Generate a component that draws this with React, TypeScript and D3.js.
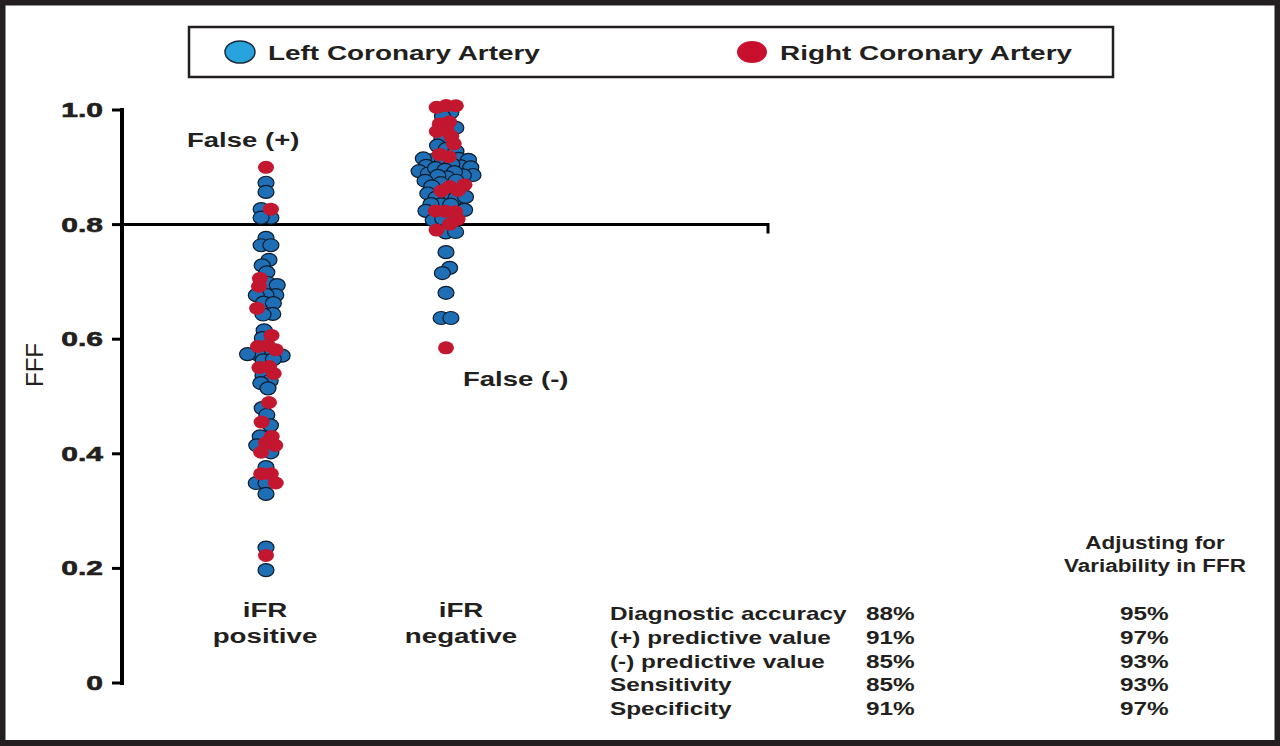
import React, { useMemo } from 'react';
import * as d3 from 'd3';

// FFR values, by iFR result and artery
const groups = ['iFR positive', 'iFR negative'];

const positiveLCA = [
  0.873, 0.857, 0.827, 0.812, 0.812, 0.777, 0.764, 0.764, 0.738, 0.729, 0.717, 0.698, 0.695,
  0.677, 0.677, 0.677, 0.663, 0.663, 0.644, 0.644, 0.613, 0.604, 0.574, 0.574, 0.574, 0.574,
  0.567, 0.567, 0.534, 0.529, 0.525, 0.515, 0.48, 0.468, 0.45, 0.429, 0.415, 0.403, 0.375,
  0.349, 0.349, 0.33, 0.236, 0.197,
];
const positiveRCA = [
  0.9, 0.827, 0.703, 0.695, 0.654, 0.607, 0.586, 0.586, 0.578, 0.551, 0.551, 0.541, 0.489,
  0.455, 0.429, 0.421, 0.415, 0.403, 0.366, 0.366, 0.349, 0.223,
];
const negativeLCA = [
  1.0, 0.988, 0.969, 0.949, 0.939, 0.932, 0.925, 0.909, 0.909, 0.909, 0.909, 0.904, 0.904,
  0.904, 0.904, 0.904, 0.895, 0.895, 0.895, 0.895, 0.887, 0.887, 0.887, 0.887, 0.887, 0.878,
  0.878, 0.878, 0.869, 0.857, 0.848, 0.848, 0.848, 0.848, 0.839, 0.839, 0.839, 0.825, 0.825,
  0.808, 0.808, 0.787, 0.787, 0.752, 0.724, 0.716, 0.681, 0.637, 0.637,
];
const negativeRCA = [
  1.005, 1.005, 1.005, 0.977, 0.977, 0.967, 0.963, 0.951, 0.939, 0.918, 0.913, 0.869, 0.869,
  0.857, 0.852, 0.825, 0.825, 0.825, 0.808, 0.805, 0.79, 0.585,
];

const yTicks = [0, 0.2, 0.4, 0.6, 0.8, 1.0];
const threshold = 0.8;

const metrics = [
  'Diagnostic accuracy',
  '(+) predictive value',
  '(-) predictive value',
  'Sensitivity',
  'Specificity',
];
const rawValues = ['88%', '91%', '85%', '85%', '91%'];
const adjustedValues = ['95%', '97%', '93%', '93%', '97%'];

const FONT = '"Liberation Sans", Arial, Helvetica, sans-serif';
const BLUE = '#1f6fb6';
const RED = '#c3172f';

interface Node {
  group: string;
  artery: 'LCA' | 'RCA';
  v: number;
  x?: number;
  y?: number;
}

const T: React.FC<{
  x: number;
  y: number;
  sx?: number;
  size?: number;
  weight?: string | number;
  anchor?: 'start' | 'middle' | 'end';
  children: React.ReactNode;
}> = ({ x, y, sx = 1.3, size = 20, weight = 'bold', anchor = 'start', children }) => (
  <text
    transform={`translate(${x},${y}) scale(${sx},1)`}
    textAnchor={anchor}
    fontSize={size}
    fontWeight={weight}
    fontFamily={FONT}
    fill="#231f20"
  >
    {children}
  </text>
);

export default function App() {
  const W = 1280;
  const H = 746;
  const axisX = 122;

  const y = d3.scaleLinear().domain([0, 1]).range([683, 110]);
  const xDots = d3.scalePoint<string>().domain(groups).range([266, 446]);
  const xLabels = d3.scalePoint<string>().domain(groups).range([265, 461]);

  const nodes = useMemo(() => {
    const list: Node[] = [
      ...positiveLCA.map((v) => ({ group: groups[0], artery: 'LCA' as const, v })),
      ...negativeLCA.map((v) => ({ group: groups[1], artery: 'LCA' as const, v })),
      ...positiveRCA.map((v) => ({ group: groups[0], artery: 'RCA' as const, v })),
      ...negativeRCA.map((v) => ({ group: groups[1], artery: 'RCA' as const, v })),
    ];
    list.forEach((d) => {
      d.x = 0;
      d.y = y(d.v);
    });
    // beeswarm in an unstretched space, run per column; x gets widened afterwards
    groups.forEach((g) => {
      const sub = list.filter((d) => d.group === g);
      const sim = d3
        .forceSimulation(sub as any)
        .force('x', d3.forceX(0).strength(0.12))
        .force('y', d3.forceY((d: any) => y(d.v)).strength(1))
        .force('collide', d3.forceCollide(3.9))
        .stop();
      for (let i = 0; i < 300; i++) sim.tick();
    });
    return list;
  }, []);

  return (
    <svg
      width={W}
      height={H}
      style={{ position: 'absolute', left: 0, top: 0, background: '#fff' }}
    >
      <rect x={2.5} y={2.5} width={W - 5} height={H - 5.5} fill="#fff" stroke="#231f20" strokeWidth={6} />

      {/* legend */}
      <rect x={189} y={27} width={924} height={50} fill="none" stroke="#231f20" strokeWidth={2.5} />
      <ellipse cx={240} cy={52} rx={15} ry={11} fill="#29a3dc" stroke="#1b2a3a" strokeWidth={1.5} />
      <T x={268} y={60} sx={1.33} size={21}>Left Coronary Artery</T>
      <ellipse cx={752} cy={52} rx={15} ry={11} fill="#c8102e" />
      <T x={780} y={60} sx={1.33} size={21}>Right Coronary Artery</T>

      {/* y axis */}
      <line x1={axisX} x2={axisX} y1={y(1) - 2} y2={y(0) + 2} stroke="#000" strokeWidth={4} />
      {yTicks.map((t) => (
        <g key={t}>
          <line x1={axisX - 10} x2={axisX} y1={y(t)} y2={y(t)} stroke="#000" strokeWidth={3} />
          <text
            transform={`translate(103,${y(t) + 7}) scale(1.5,1)`}
            textAnchor="end"
            fontSize={20}
            fontWeight="bold"
            fontFamily={FONT}
            fill="#231f20"
            stroke="#231f20"
            strokeWidth={0.6}
          >
            {t === 0 ? '0' : t.toFixed(1)}
          </text>
        </g>
      ))}
      <text
        transform={`translate(43,365) rotate(-90)`}
        textAnchor="middle"
        fontSize={24}
        fontFamily={FONT}
        fill="#231f20"
      >
        FFF
      </text>

      {/* cut-off line */}
      <path
        d={`M${axisX},${y(threshold)}H768V${y(threshold) + 9}`}
        fill="none"
        stroke="#000"
        strokeWidth={3}
      />

      {/* dots */}
      {nodes.map((d, i) => (
        <ellipse
          key={i}
          cx={(xDots(d.group) as number) + (d.x ?? 0) * 1.25}
          cy={d.y}
          rx={8}
          ry={6.5}
          fill={d.artery === 'LCA' ? BLUE : RED}
          stroke={d.artery === 'LCA' ? '#0f1c2c' : 'none'}
          strokeWidth={1.2}
        />
      ))}

      <T x={187} y={147} sx={1.31} size={21}>False (+)</T>
      <T x={463} y={386} sx={1.31} size={21}>False (-)</T>

      {/* category labels */}
      {groups.map((g) => {
        const [a, b] = g.split(' ');
        return (
          <g key={g}>
            <T x={xLabels(g) as number} y={617} sx={1.32} size={21} anchor="middle">{a}</T>
            <T x={xLabels(g) as number} y={643} sx={1.32} size={21} anchor="middle">{b}</T>
          </g>
        );
      })}

      {/* statistics table */}
      <T x={1155} y={549} sx={1.18} size={19} anchor="middle">Adjusting for</T>
      <T x={1155} y={572} sx={1.18} size={19} anchor="middle">Variability in FFR</T>
      {metrics.map((m, i) => (
        <g key={m}>
          <T x={610} y={620 + i * 23.8} sx={1.28} size={19}>{m}</T>
          <T x={866} y={620 + i * 23.8} sx={1.28} size={19}>{rawValues[i]}</T>
          <T x={1120} y={620 + i * 23.8} sx={1.28} size={19}>{adjustedValues[i]}</T>
        </g>
      ))}
    </svg>
  );
}
